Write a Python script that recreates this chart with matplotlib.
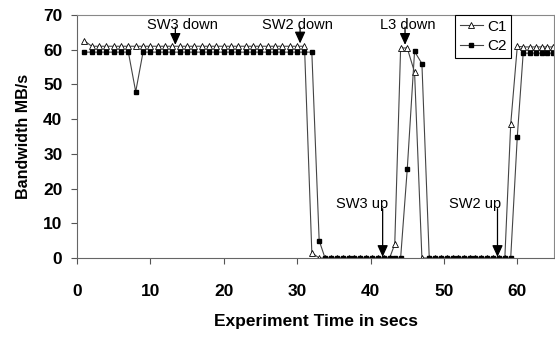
import matplotlib
matplotlib.use("Agg")
import matplotlib.pyplot as plt

plt.rcParams['font.family'] = ['Liberation Sans', 'DejaVu Sans']

# sample times (secs), shared by both series
t = list(range(1, 33)) + [33, 33.8, 34.6, 35.4, 36.2, 37.0, 37.8, 38.6, 39.4, 40.2,
                          41.0, 41.8, 42.6, 43.3, 44.1, 45.0, 46.0, 47.0,
                          48.0, 48.8, 49.6, 50.4, 51.2, 51.9, 52.8, 53.5, 54.3, 55.1,
                          55.9, 56.7, 57.5, 58.3, 59.1, 60.0, 60.8, 61.7, 62.5, 63.3,
                          64.1, 64.9]

c1 = ([62.6] + [61.0] * 30 + [1.5]
      + [0] * 13 + [4.0, 60.5, 60.5, 53.5, 0]
      + [0] * 14 + [38.5, 61.0] + [60.8] * 6)

c2 = ([59.3] * 7 + [47.9] + [59.3] * 24 + [5.0]
      + [0] * 14 + [25.5, 59.5, 56.0]
      + [0] * 15 + [35.0] + [59.0] * 6)

# event labels: (text, arrow x, arrow tip y, arrow start y, text x, text y)
events = [
    ("SW3 down", 13.4, 61.4, 66.5, 14.3, 67.0),
    ("SW2 down", 30.4, 61.8, 66.5, 30.0, 67.0),
    ("L3 down", 44.7, 61.4, 66.5, 45.1, 67.0),
    ("SW3 up", 41.65, 0.3, 14.2, 38.8, 15.6),
    ("SW2 up", 57.3, 0.3, 14.2, 54.2, 15.6),
]

fig = plt.figure(figsize=(5.55, 3.39), dpi=100)
ax = fig.add_axes([77 / 555, 1 - 258 / 339, 477 / 555, 243 / 339])

ax.plot(t, c1, color='#444444', lw=0.8, marker='^', ms=4.2, mfc='white',
        mec='black', mew=0.6, label='C1')
ax.plot(t, c2, color='#444444', lw=0.8, marker='s', ms=3.4, mfc='black',
        mec='black', label='C2')

for txt, ax_x, tip_y, start_y, tx, ty in events:
    ax.annotate('', xy=(ax_x, tip_y), xytext=(ax_x, start_y),
                arrowprops=dict(arrowstyle='-|>,head_width=0.32,head_length=0.7',
                                color='black', lw=0.9, shrinkA=0, shrinkB=0))
    ax.text(tx, ty, txt, ha='center', va='center', fontsize=10.5)

ax.set_xlim(0, 65)
ax.set_ylim(0, 70)
ax.set_xticks(range(0, 61, 10))
ax.set_yticks(range(0, 71, 10))
ax.tick_params(axis='x', direction='out', length=4.5, width=0.8, pad=14,
               labelsize=12.5, colors='#555555', labelcolor='black')
ax.tick_params(axis='y', direction='out', length=4.5, width=0.8, pad=6,
               labelsize=12.5, colors='#555555', labelcolor='black')
for lab in ax.get_xticklabels() + ax.get_yticklabels():
    lab.set_fontweight('bold')
for side in ['left', 'bottom']:
    ax.spines[side].set_color('#666666')
for side in ['top', 'right']:
    ax.spines[side].set_color('#888888')
    ax.spines[side].set_linewidth(0.8)

ax.set_xlabel('Experiment Time in secs', fontsize=12.5, fontweight='bold', labelpad=11)
ax.set_ylabel('Bandwidth MB/s', fontsize=11.5, fontweight='bold', labelpad=9)

leg = ax.legend(loc='upper left', bbox_to_anchor=(0.7925, 1.0), borderaxespad=0,
                fancybox=False, edgecolor='black', framealpha=1, fontsize=11,
                handlelength=1.5, handletextpad=0.3, borderpad=0.3, labelspacing=0.35)
leg.get_frame().set_linewidth(0.8)

fig.savefig('out.png', dpi=100)
